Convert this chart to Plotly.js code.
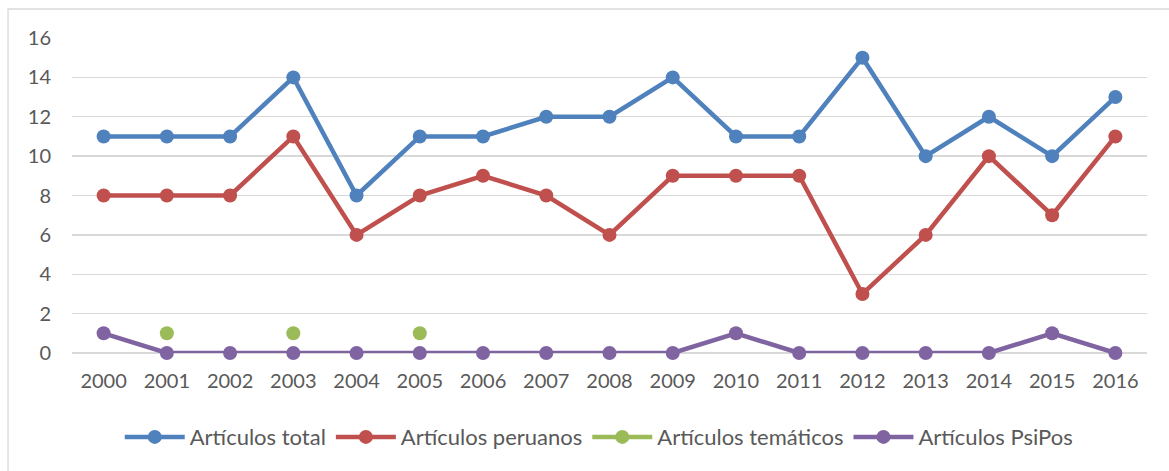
<!DOCTYPE html>
<html>
<head>
<meta charset="utf-8">
<script src="https://cdn.plot.ly/plotly-3.0.1.min.js"></script>
<style>html,body{margin:0;padding:0;background:#fff;}#chart{width:1169px;height:471px;}</style>
</head>
<body>
<div id="chart"></div>
<script>
const years = ["2000","2001","2002","2003","2004","2005","2006","2007","2008","2009","2010","2011","2012","2013","2014","2015","2016"];
const total = [11,11,11,14,8,11,11,12,12,14,11,11,15,10,12,10,13];
const peruanos = [8,8,8,11,6,8,9,8,6,9,9,9,3,6,10,7,11];
const tematicos = [null,1,null,1,null,1,null,null,null,null,null,null,null,null,null,null,null];
const psipos = [1,0,0,0,0,0,0,0,0,0,1,0,0,0,0,1,0];
const names = ["Artículos total","Artículos peruanos","Artículos temáticos","Artículos PsiPos"];
const colors = ["#4F81BD","#C0504D","#9BBB59","#8064A2"];
const series = [total, peruanos, tematicos, psipos];

const traces = series.map((s,i)=>({
  x: years, y: s, name: names[i], type:'scatter', mode:'lines+markers',
  line:{color:colors[i], width:4.5},
  marker:{color:colors[i], size:14},
  cliponaxis:false, connectgaps:false
}));

const tickFont = {family:'Lato, "Open Sans", sans-serif', size:20, color:'#595959'};
const legFont = {family:'Lato, "Open Sans", sans-serif', size:22, color:'#595959'};
const layout = {
  width:1169, height:471,
  margin:{l:72, r:22, t:38, b:118},
  paper_bgcolor:'#fff', plot_bgcolor:'#fff',
  font: tickFont,
  showlegend:true,
  legend:{orientation:'h', x:0.49, xanchor:'center', y:-0.267, yanchor:'middle', font:legFont, itemwidth:60, tracegroupgap:0},
  xaxis:{type:'category', range:[-0.5,16.5], showgrid:false, zeroline:false, showline:false, ticks:'', tickfont:tickFont, ticklabelstandoff:14, fixedrange:true},
  yaxis:{range:[0,16], dtick:2, tick0:0, showgrid:true, gridcolor:'#D9D9D9', gridwidth:1.3, zeroline:true, zerolinecolor:'#D9D9D9', zerolinewidth:1.3, showline:false, ticks:'', tickfont:tickFont, ticklabelstandoff:20, fixedrange:true},
  shapes:[{type:'rect', xref:'paper', yref:'paper', x0:-0.0595, x1:1.03, y0:-0.42, y1:1.092, line:{color:'#D9D9D9', width:1.3}, fillcolor:'rgba(0,0,0,0)', layer:'below'}]
};
Plotly.newPlot('chart', traces, layout, {displayModeBar:false, staticPlot:true});
</script>
</body>
</html>
